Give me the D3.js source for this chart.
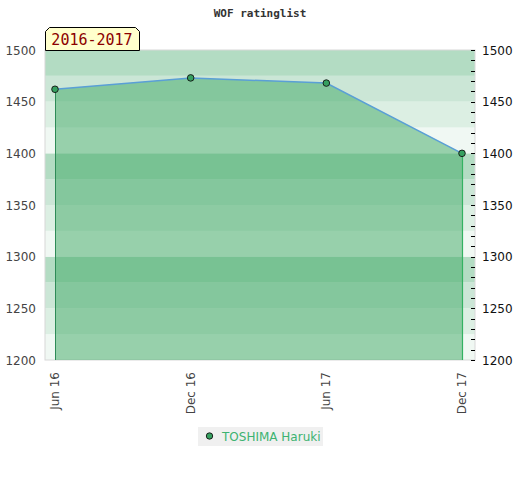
<!DOCTYPE html>
<html><head><meta charset="utf-8">
<script src="https://cdn.jsdelivr.net/npm/d3@7"></script>
<style>body{margin:0;background:#fff}svg{display:block}</style>
</head><body>
<script>
const categories = ["Jun 16", "Dec 16", "Jun 17", "Dec 17"];
const ratings = [1462, 1473, 1468, 1400];
const yTicks = [1200, 1250, 1300, 1350, 1400, 1450, 1500];
const seriesName = "TOSHIMA Haruki";
const periodLabel = "2016-2017";
const title = "WOF ratinglist";

const W = 520, H = 480;
const plot = {l: 45, r: 475, t: 50, b: 360};
const svg = d3.select("body").append("svg").attr("width", W).attr("height", H);

const x = d3.scalePoint().domain(categories).range([55, 462]);
const y = d3.scaleLinear().domain([1200, 1500]).range([plot.b, plot.t]);

// background bands
const bandColors = ["#f0f8f3", "#dcefe3", "#cbe6d6", "#b3dcc3"];
const bands = d3.range(1200, 1500, 25);
svg.selectAll("rect.band").data(bands).enter().append("rect")
  .attr("x", plot.l).attr("width", plot.r - plot.l)
  .attr("y", d => y(d + 25)).attr("height", d => y(d) - y(d + 25))
  .attr("fill", (d, i) => bandColors[i % 4]);

// border
svg.append("rect").attr("x", plot.l).attr("y", plot.t).attr("width", plot.r - plot.l)
  .attr("height", plot.b - plot.t).attr("fill", "none").attr("stroke", "#d8d8d8").attr("stroke-width", 1);

const data = categories.map((c, i) => ({c, v: ratings[i]}));

// area
const area = d3.area().x(d => x(d.c)).y0(y(1200)).y1(d => y(d.v));
svg.append("path").datum(data).attr("d", area).attr("fill", "rgb(62,168,100)").attr("fill-opacity", 0.5);

// vertical edge lines
svg.append("line").attr("x1", x(categories[0]) + 0.5).attr("x2", x(categories[0]) + 0.5)
  .attr("y1", y(ratings[0])).attr("y2", y(1200)).attr("stroke", "#2e8b57").attr("stroke-width", 1);
const last = categories.length - 1;
svg.append("line").attr("x1", x(categories[last]) + 0.5).attr("x2", x(categories[last]) + 0.5)
  .attr("y1", y(ratings[last])).attr("y2", y(1200)).attr("stroke", "#33b262").attr("stroke-width", 1.2);

// line
const line = d3.line().x(d => x(d.c)).y(d => y(d.v));
svg.append("path").datum(data).attr("d", line).attr("fill", "none")
  .attr("stroke", "#5a9fd6").attr("stroke-width", 1.5);

// points
svg.selectAll("circle.pt").data(data).enter().append("circle")
  .attr("cx", d => x(d.c)).attr("cy", d => y(d.v)).attr("r", 3.3)
  .attr("fill", "#36a060").attr("stroke", "#111").attr("stroke-width", 0.9);

// left axis labels
svg.selectAll("text.yl").data(yTicks).enter().append("text")
  .attr("x", 36).attr("y", d => y(d) + 4.5).attr("text-anchor", "end")
  .attr("font-family", "DejaVu Sans").attr("font-size", 12).attr("fill", "#444")
  .text(d => d);

// right axis ticks and labels
svg.selectAll("line.rt").data(d3.range(1200, 1501, 10)).enter().append("line")
  .attr("x1", 471).attr("x2", 475).attr("y1", d => Math.round(y(d)) + 0.5).attr("y2", d => Math.round(y(d)) + 0.5)
  .attr("stroke", "#000").attr("stroke-width", 1);
svg.selectAll("text.yr").data(yTicks).enter().append("text")
  .attr("x", 482).attr("y", d => y(d) + 4.5).attr("text-anchor", "start")
  .attr("font-family", "DejaVu Sans").attr("font-size", 12).attr("fill", "#111")
  .text(d => d);

// x labels rotated
svg.selectAll("text.xl").data(categories).enter().append("text")
  .attr("transform", d => `translate(${x(d) + 4},372) rotate(-90)`)
  .attr("text-anchor", "end")
  .attr("font-family", "DejaVu Sans").attr("font-size", 12).attr("fill", "#444")
  .text(d => d);

// title
svg.append("text").attr("x", 260).attr("y", 17).attr("text-anchor", "middle")
  .attr("font-family", "DejaVu Sans Mono").attr("font-weight", "bold").attr("font-size", 11)
  .attr("fill", "#333").text(title);

// period label box
const bx0 = 45.5, bx1 = 139.5, by0 = 27.5, by1 = 50.5, cut = 4;
svg.append("path")
  .attr("d", `M${bx0},${by1} L${bx0},${by0 + cut} L${bx0 + cut},${by0} L${bx1 - cut},${by0} L${bx1},${by0 + cut} L${bx1},${by1} Z`)
  .attr("fill", "#ffffcc").attr("stroke", "#000").attr("stroke-width", 1);
svg.append("text").attr("x", 92).attr("y", 45).attr("text-anchor", "middle")
  .attr("font-family", "DejaVu Sans Mono").attr("font-size", 15).attr("fill", "#8b0000")
  .text(periodLabel);

// legend
svg.append("rect").attr("x", 198).attr("y", 427).attr("width", 125).attr("height", 19).attr("fill", "#f0f0f0");
svg.append("circle").attr("cx", 209.5).attr("cy", 436).attr("r", 3.2)
  .attr("fill", "#36a060").attr("stroke", "#111").attr("stroke-width", 0.9);
svg.append("text").attr("x", 222).attr("y", 440.5).attr("font-family", "DejaVu Sans").attr("font-size", 12)
  .attr("fill", "#3cb371").text(seriesName);
</script>
</body></html>
